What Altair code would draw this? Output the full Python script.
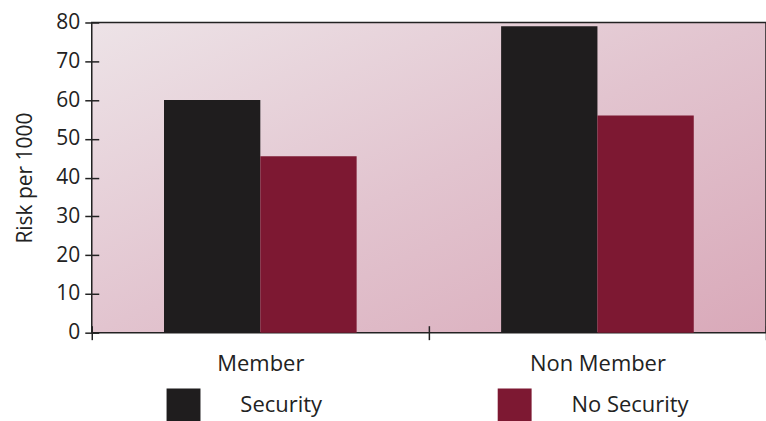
import altair as alt
import pandas as pd

# Risk per 1000, by membership and security
categories = ["Member", "Non Member"]
security_values = [60, 79]
no_security_values = [45.5, 56]
series = ["Security", "No Security"]
series_colors = ["#1f1d1e", "#7d1832"]
y_ticks = [0, 10, 20, 30, 40, 50, 60, 70, 80]

rows = []
for cat, s, ns in zip(categories, security_values, no_security_values):
    rows.append({"group": cat, "security": series[0], "risk": s})
    rows.append({"group": cat, "security": series[1], "risk": ns})
df = pd.DataFrame(rows)

FONT = "Open Sans"
INK = "#222222"
W, H = 676, 311

# pink paper behind the bars, framed by the plot border
backdrop = alt.Chart(pd.DataFrame({"k": [0]})).mark_rect(
    fill=alt.LinearGradient(
        gradient="linear",
        x1=0, y1=0, x2=1, y2=1,
        stops=[
            alt.GradientStop(color="#ede3e7", offset=0),
            alt.GradientStop(color="#e2c4cf", offset=0.5),
            alt.GradientStop(color="#d9a9b9", offset=1),
        ],
    ),
    stroke=INK,
    strokeWidth=1.5,
).encode(x=alt.value(0), x2=alt.value(W), y=alt.value(0), y2=alt.value(H))

x_scale = alt.Scale(paddingInner=0, paddingOuter=0)
y_scale = alt.Scale(domain=[0, 80], nice=False)
off_scale = alt.Scale(domain=series, paddingOuter=0.75, paddingInner=0)

# axes sit 7px inside the frame so their ticks cross the border line
bars = alt.Chart(df).mark_bar().encode(
    x=alt.X(
        "group:N",
        sort=categories,
        scale=x_scale,
        axis=alt.Axis(
            title=None,
            labelAngle=0,
            offset=-7,
            tickBand="extent",
            tickSize=14,
            tickWidth=1.5,
            tickColor=INK,
            domain=False,
            labelFont=FONT,
            labelFontSize=22,
            labelColor=INK,
            labelPadding=14,
            zindex=1,
        ),
    ),
    xOffset=alt.XOffset("security:N", sort=series, scale=off_scale),
    y=alt.Y(
        "risk:Q",
        scale=y_scale,
        axis=alt.Axis(
            values=y_ticks,
            title="Risk per 1000",
            grid=False,
            offset=-7,
            tickSize=14,
            tickWidth=1.5,
            tickColor=INK,
            domain=False,
            labelFont=FONT,
            labelFontSize=21,
            labelColor=INK,
            labelPadding=5,
            titleFont=FONT,
            titleFontSize=21,
            titleFontWeight="normal",
            titleColor=INK,
            titlePadding=20,
            zindex=1,
        ),
    ),
    color=alt.Color(
        "security:N",
        scale=alt.Scale(domain=series, range=series_colors),
        legend=alt.Legend(
            title=None,
            orient="none",
            direction="horizontal",
            legendX=75,
            legendY=367,
            padding=0,
            symbolType="square",
            symbolSize=1156,
            symbolStrokeWidth=0,
            symbolOpacity=1,
            labelFont=FONT,
            labelFontSize=22,
            labelColor=INK,
            labelOffset=40,
            columnPadding=176,
        ),
    ),
)

chart = (
    alt.layer(backdrop, bars)
    .properties(
        width=W,
        height=H,
        autosize=alt.AutoSizeParams(type="none"),
        padding={"left": 92, "top": 22, "right": 0, "bottom": 88},
        background="white",
    )
    .configure_view(stroke=None)
)

chart.save("out.html", embed_options={"renderer": "svg", "actions": False})
